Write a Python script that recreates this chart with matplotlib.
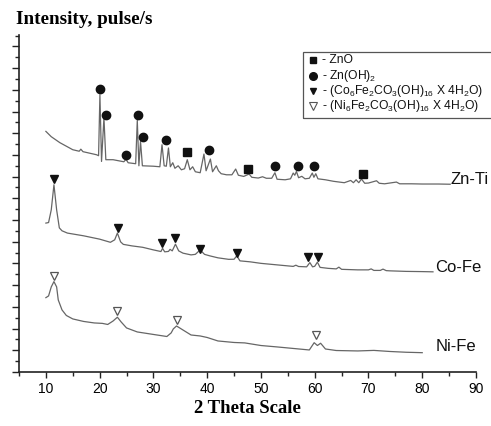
import matplotlib.pyplot as plt
from matplotlib.patches import Rectangle
from matplotlib.ticker import MultipleLocator

plt.rcParams['font.family'] = ['Liberation Sans', 'DejaVu Sans']
plt.rcParams['mathtext.default'] = 'regular'

# XRD patterns (2 theta, intensity in axis tick units, curves already offset)
tt_znti = [10.0, 11.0, 12.6, 15.0, 16.2, 16.5, 16.9, 19.4, 19.8, 20.05, 20.35, 20.8, 21.15,
           22.5, 24.5, 24.9, 25.3, 26.7, 27.0, 27.3, 27.6, 27.95, 30.0, 31.2, 31.6, 32.0,
           32.4, 32.8, 33.15, 33.6, 34.0, 34.6, 35.2, 35.8, 36.3, 36.8, 37.3, 37.8, 38.7,
           39.4, 39.8, 40.6, 41.0, 41.7, 42.1, 42.6, 43.6, 44.6, 45.3, 45.8, 46.8, 47.8,
           48.3, 49.5, 50.3, 51.0, 52.0, 52.6, 53.0, 54.5, 55.5, 56.0, 56.3, 56.6, 57.0,
           57.6, 58.2, 59.0, 59.55, 59.85, 60.2, 60.6, 62.0, 63.5, 65.5, 66.7, 67.2, 67.7,
           68.2, 68.7, 69.3, 70.0, 71.5, 72.0, 73.0, 75.2, 75.8, 78.0, 80.0, 83.0, 85.2]
int_znti = [22.17, 21.68, 21.13, 20.48, 20.34, 20.53, 20.30, 20.02, 19.93, 25.55, 19.40, 23.43, 19.56,
            19.56, 19.37, 19.60, 19.28, 19.19, 23.18, 19.00, 21.25, 19.00, 18.96, 18.91, 20.94, 19.00,
            18.96, 20.64, 18.91, 19.28, 18.77, 19.00, 18.63, 18.73, 19.56, 18.63, 18.91, 18.45, 18.36,
            20.08, 18.54, 19.62, 18.45, 19.00, 18.54, 18.27, 18.17, 18.17, 18.70, 18.13, 18.02, 18.24,
            17.94, 17.87, 17.99, 17.85, 17.85, 18.36, 17.76, 17.71, 17.80, 18.33, 18.13, 18.48, 17.90,
            18.03, 17.80, 17.85, 18.33, 17.94, 18.27, 17.80, 17.71, 17.57, 17.44, 17.65, 17.44, 17.71,
            17.44, 17.78, 17.39, 17.41, 17.62, 17.39, 17.34, 17.50, 17.34, 17.34, 17.32, 17.32, 17.30]

tt_cofe = [10.0, 10.5, 11.0, 11.5, 12.0, 12.5, 13.0, 14.0, 17.0, 20.0, 22.0, 22.8, 23.3, 23.9,
           24.4, 26.0, 28.0, 30.0, 31.4, 31.7, 32.1, 32.8, 33.1, 33.5, 34.1, 34.7, 35.5, 37.0,
           37.8, 38.7, 39.5, 40.5, 42.0, 44.0, 45.0, 45.5, 46.1, 48.0, 50.0, 53.0, 56.0, 56.5,
           57.0, 58.5, 59.1, 59.6, 60.0, 60.5, 61.0, 62.5, 64.0, 64.5, 65.0, 68.0, 70.0, 70.5,
           71.0, 72.2, 72.7, 73.3, 74.0, 77.0, 80.0, 82.0]
int_cofe = [13.72, 13.77, 14.94, 17.25, 14.94, 13.28, 13.01, 12.80, 12.55, 12.24, 11.95, 12.18, 12.80, 11.99,
            11.76, 11.62, 11.49, 11.25, 11.10, 11.39, 11.07, 11.11, 11.30, 11.16, 11.78, 11.16, 10.95, 10.79,
            10.84, 11.25, 10.84, 10.70, 10.52, 10.38, 10.39, 10.70, 10.24, 10.15, 10.01, 9.87, 9.73, 9.84,
            9.72, 9.69, 10.08, 9.69, 9.74, 10.12, 9.64, 9.55, 9.50, 9.66, 9.46, 9.41, 9.41, 9.50,
            9.36, 9.36, 9.48, 9.34, 9.32, 9.27, 9.25, 9.23]

tt_nife = [10.0, 10.5, 11.0, 11.5, 12.0, 12.3, 13.0, 13.8, 15.0, 17.0, 19.0, 20.5, 21.5, 22.5,
           23.3, 24.0, 25.0, 27.0, 30.0, 32.5, 33.3, 33.7, 34.3, 35.5, 37.0, 38.7, 40.0, 42.0,
           45.0, 47.0, 50.0, 53.0, 56.0, 59.0, 59.9, 60.5, 61.1, 62.0, 64.0, 68.0, 71.0, 74.0,
           77.0, 80.0]
int_nife = [6.85, 7.01, 7.84, 8.33, 7.84, 6.64, 5.72, 5.21, 4.89, 4.66, 4.52, 4.48, 4.38, 4.70,
            5.05, 4.61, 4.06, 3.69, 3.46, 3.27, 3.60, 3.97, 4.24, 3.87, 3.41, 3.32, 3.18, 2.86,
            2.72, 2.68, 2.44, 2.31, 2.17, 2.03, 2.70, 2.44, 2.65, 2.12, 1.98, 1.94, 1.99, 1.89,
            1.82, 1.78]

# phase markers
zno_tt = [36.2, 47.6, 69.0]
zno_y = [20.23, 18.73, 18.24]
znoh_tt = [20.05, 21.2, 24.9, 27.2, 28.0, 32.3, 40.3, 52.6, 56.8, 59.9]
znoh_y = [26.08, 23.71, 19.99, 23.64, 21.65, 21.34, 20.42, 18.94, 19.00, 19.00]
co_tt = [11.5, 23.45, 31.6, 34.1, 38.7, 45.5, 58.8, 60.7]
co_y = [17.80, 13.31, 11.93, 12.33, 11.37, 10.95, 10.64, 10.64]
ni_tt = [11.5, 23.3, 34.3, 60.2]
ni_y = [8.86, 5.65, 4.80, 3.41]

samples = ['Zn-Ti', 'Co-Fe', 'Ni-Fe']
label_tt = [85.3, 82.4, 82.4]
label_y = [17.71, 9.59, 2.33]

legend_labels = ['- ZnO', '- Zn(OH)$_2$',
                 '- (Co$_6$Fe$_2$CO$_3$(OH)$_{16}$ X 4H$_2$O)',
                 '- (Ni$_6$Fe$_2$CO$_3$(OH)$_{16}$ X 4H$_2$O)']

fig = plt.figure(figsize=(4.91, 4.26), dpi=100)
ax = fig.add_axes([19 / 491, 54 / 426, 457 / 491, 337 / 426])

line_col = '#666666'
ax.plot(tt_znti, int_znti, color=line_col, lw=0.9)
ax.plot(tt_cofe, int_cofe, color=line_col, lw=0.9)
ax.plot(tt_nife, int_nife, color=line_col, lw=0.9)

ax.plot(zno_tt, zno_y, 's', color='#111111', ms=5.2, ls='none')
ax.plot(znoh_tt, znoh_y, 'o', color='#111111', ms=6, ls='none')
ax.plot(co_tt, co_y, 'v', color='#111111', ms=5.2, ls='none')
ax.plot(ni_tt, ni_y, 'v', mfc='white', mec='#555555', mew=0.9, ms=6.3, ls='none')

for name, x, y in zip(samples, label_tt, label_y):
    ax.text(x, y, name, fontsize=12, va='center', ha='left', color='#111111', clip_on=False)

ax.set_xlim(5, 90)
ax.set_ylim(0, 31.05)
ax.xaxis.set_major_locator(MultipleLocator(10))
ax.xaxis.set_minor_locator(MultipleLocator(5))
ax.yaxis.set_major_locator(MultipleLocator(2))
ax.yaxis.set_minor_locator(MultipleLocator(1))
ax.set_xticks(range(10, 91, 10))
ax.set_yticklabels([])
ax.tick_params(axis='y', which='major', length=5, width=1, color='#222222', labelleft=False)
ax.tick_params(axis='y', which='minor', length=3, width=1, color='#222222')
ax.tick_params(axis='x', which='major', length=4, width=1, color='#222222', labelsize=10, pad=3)
ax.tick_params(axis='x', which='minor', length=3, width=1, color='#222222')
for side in ['top', 'right']:
    ax.spines[side].set_visible(False)
for side in ['left', 'bottom']:
    ax.spines[side].set_linewidth(1.2)
    ax.spines[side].set_color('#222222')

ax.set_xlabel('2 Theta Scale', family='Liberation Serif', fontweight='bold', fontsize=13.5, labelpad=3)
fig.text(16 / 491, 1 - 19 / 426, 'Intensity, pulse/s', family='Liberation Serif',
         fontweight='bold', fontsize=13.8, va='center', ha='left')

# legend box, runs past the right edge like in the original
fig.patches.append(Rectangle((302.5 / 491, 1 - 118.3 / 426), 200 / 491, 66 / 426,
                             transform=fig.transFigure, fill=False, ec='#555555', lw=0.9))
leg_markers = [dict(marker='s', color='#111111', ms=5),
               dict(marker='o', color='#111111', ms=5.5),
               dict(marker='v', color='#111111', ms=4.5),
               dict(marker='v', mfc='white', mec='#555555', mew=0.8, ms=5.5)]
row_y = [60, 75.5, 91, 106]
for lab, mk, ry in zip(legend_labels, leg_markers, row_y):
    fy = 1 - ry / 426
    fig.add_artist(plt.Line2D([313 / 491], [fy], ls='none', transform=fig.transFigure, **mk))
    fig.text(322.5 / 491, fy, lab, fontsize=8.7, va='center', ha='left', color='#111111')

fig.savefig('out.png', dpi=100)
